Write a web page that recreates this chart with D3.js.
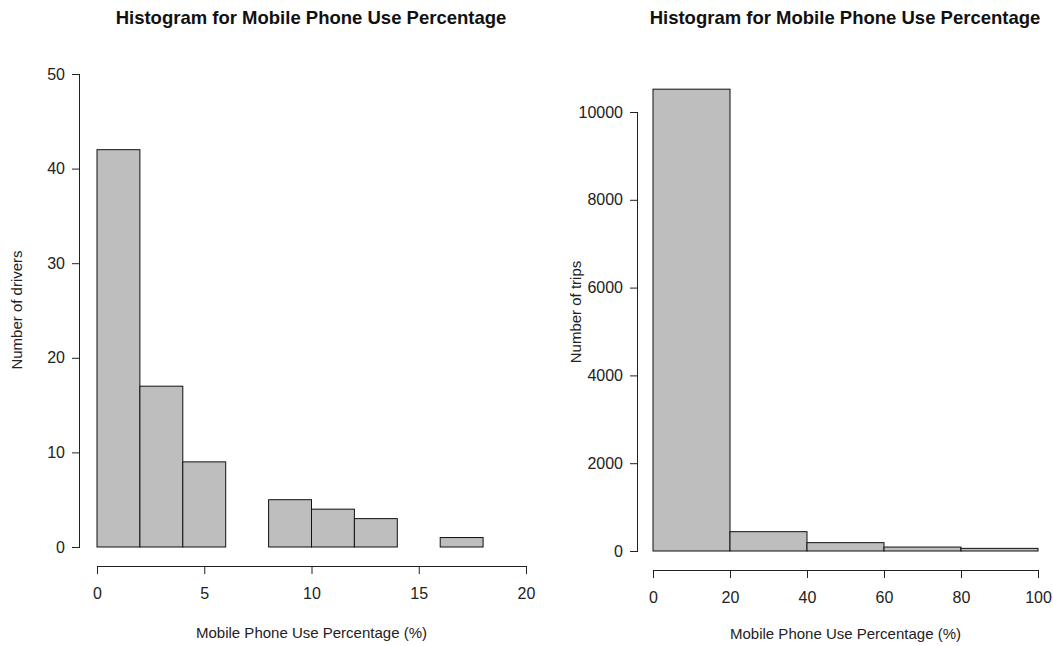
<!DOCTYPE html>
<html>
<head>
<meta charset="utf-8">
<script src="https://cdn.jsdelivr.net/npm/d3@7"></script>
<style>
  html, body { margin: 0; padding: 0; background: #fff; }
  svg { display: block; font-family: "Liberation Sans", Arial, sans-serif; }
</style>
</head>
<body>
<svg id="chart" width="1053" height="646"></svg>
<script>
// Drivers: share of driving time spent using a phone, binned by 2 percentage points
const driverBinEdges = [0, 2, 4, 6, 8, 10, 12, 14, 16, 18];
const driverCounts = [42, 17, 9, 0, 5, 4, 3, 0, 1];
const driverXTicks = [0, 5, 10, 15, 20];
const driverYTicks = [0, 10, 20, 30, 40, 50];

// Trips: share of trip time spent using a phone, binned by 20 percentage points
const tripBinEdges = [0, 20, 40, 60, 80, 100];
const tripCounts = [10520, 440, 190, 90, 60];
const tripXTicks = [0, 20, 40, 60, 80, 100];
const tripYTicks = [0, 2000, 4000, 6000, 8000, 10000];

const titleText = "Histogram for Mobile Phone Use Percentage";
const xTitleText = "Mobile Phone Use Percentage (%)";

const svg = d3.select("#chart");

function histogram(cfg) {
  const g = svg.append("g");
  const x = d3.scaleLinear().domain(cfg.xDomain).range(cfg.xRange);
  const y = d3.scaleLinear().domain(cfg.yDomain).range(cfg.yRange);

  const bins = cfg.counts.map((c, i) => ({ x0: cfg.edges[i], x1: cfg.edges[i + 1], n: c }));

  g.selectAll("rect.bar")
    .data(bins)
    .join("rect")
    .attr("class", "bar")
    .attr("x", d => x(d.x0))
    .attr("y", d => y(d.n))
    .attr("width", d => x(d.x1) - x(d.x0))
    .attr("height", d => y(0) - y(d.n))
    .attr("fill", "#bebebe")
    .attr("stroke", "#111")
    .attr("stroke-width", 1);

  // x axis, detached below the bars
  const xa = g.append("g")
    .attr("transform", `translate(0,${cfg.xAxisY})`)
    .call(d3.axisBottom(x).tickValues(cfg.xTicks).tickSize(8).tickPadding(14).tickFormat(d3.format("d")));
  xa.select(".domain").attr("d", `M${x(cfg.xTicks[0])},0.5H${x(cfg.xTicks[cfg.xTicks.length - 1])}`);

  // y axis, detached left of the bars
  const ya = g.append("g")
    .attr("transform", `translate(${cfg.yAxisX},0)`)
    .call(d3.axisLeft(y).tickValues(cfg.yTicks).tickSize(8).tickPadding(7).tickFormat(d3.format("d")));
  ya.select(".domain").attr("d", `M-0.5,${y(cfg.yTicks[0])}V${y(cfg.yTicks[cfg.yTicks.length - 1])}`);

  [xa, ya].forEach(a => {
    a.selectAll("text").attr("font-size", 16).attr("fill", "#222")
      .attr("font-family", "Liberation Sans, Arial, sans-serif");
    a.selectAll("line, path").attr("stroke", "#222");
  });

  // titles
  g.append("text")
    .attr("x", cfg.titleX).attr("y", 24)
    .attr("text-anchor", "middle")
    .attr("font-weight", "bold").attr("font-size", 18.5)
    .attr("fill", "#111")
    .text(titleText);

  g.append("text")
    .attr("x", (x(cfg.xTicks[0]) + x(cfg.xTicks[cfg.xTicks.length - 1])) / 2)
    .attr("y", cfg.xTitleY)
    .attr("text-anchor", "middle")
    .attr("font-size", 15).attr("fill", "#222")
    .text(xTitleText);

  g.append("text")
    .attr("transform", `translate(${cfg.yTitleX},${cfg.yTitleY}) rotate(-90)`)
    .attr("text-anchor", "middle")
    .attr("font-size", 15).attr("fill", "#222")
    .text(cfg.yTitle);
}

histogram({
  edges: driverBinEdges, counts: driverCounts,
  xTicks: driverXTicks, yTicks: driverYTicks,
  xDomain: [0, 20], xRange: [97, 526],
  yDomain: [0, 50], yRange: [547, 74],
  xAxisY: 566, yAxisX: 80,
  titleX: 311, xTitleY: 638,
  yTitle: "Number of drivers", yTitleX: 22, yTitleY: 310
});

histogram({
  edges: tripBinEdges, counts: tripCounts,
  xTicks: tripXTicks, yTicks: tripYTicks,
  xDomain: [0, 100], xRange: [653, 1038],
  yDomain: [0, 10000], yRange: [551, 112],
  xAxisY: 570, yAxisX: 638,
  titleX: 845, xTitleY: 639,
  yTitle: "Number of trips", yTitleX: 581, yTitleY: 312
});
</script>
</body>
</html>
